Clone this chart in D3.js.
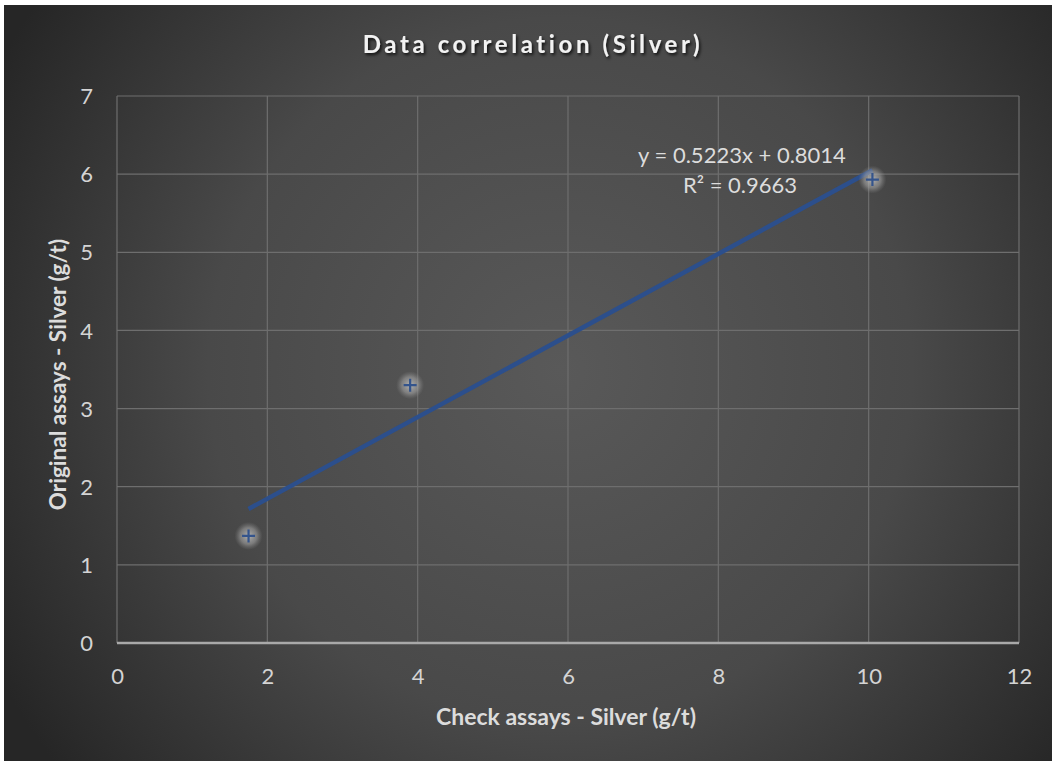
<!DOCTYPE html>
<html>
<head>
<meta charset="utf-8">
<script src="https://cdn.jsdelivr.net/npm/d3@7"></script>
<style>
  html, body { margin: 0; padding: 0; background: #ffffff; }
  svg { display: block; }
  text { font-family: Lato, "Open Sans", sans-serif; }
</style>
</head>
<body>
<svg id="chart" width="1054" height="761"></svg>
<script>
// ---- data ----
const checkAssays = [1.75, 3.9, 10.05];      // x values (g/t)
const originalAssays = [1.37, 3.3, 5.93];    // y values (g/t)
const trendSlope = 0.5223;
const trendIntercept = 0.8014;
const rSquared = 0.9663;
const xTicks = [0, 2, 4, 6, 8, 10, 12];
const yTicks = [0, 1, 2, 3, 4, 5, 6, 7];
const titleText = "Data correlation (Silver)";
const xTitle = "Check assays - Silver (g/t)";
const yTitle = "Original assays - Silver (g/t)";

const svg = d3.select("#chart");
const frame = { x: 4, y: 5, w: 1048, h: 756 };
const plot = { left: 117, right: 1019, top: 96, bottom: 643 };

const defs = svg.append("defs");
const grad = defs.append("radialGradient")
  .attr("id", "bg").attr("gradientUnits", "userSpaceOnUse")
  .attr("cx", 560).attr("cy", 370).attr("r", 640);
grad.append("stop").attr("offset", "0%").attr("stop-color", "#595959");
grad.append("stop").attr("offset", "55%").attr("stop-color", "#494949");
grad.append("stop").attr("offset", "100%").attr("stop-color", "#262626");

const glow = defs.append("radialGradient").attr("id", "glow");
glow.append("stop").attr("offset", "0%").attr("stop-color", "#c4c4c4").attr("stop-opacity", 0.85);
glow.append("stop").attr("offset", "60%").attr("stop-color", "#a5a5a5").attr("stop-opacity", 0.55);
glow.append("stop").attr("offset", "100%").attr("stop-color", "#888888").attr("stop-opacity", 0);

const shadow = defs.append("filter").attr("id", "tshadow")
  .attr("x", "-10%").attr("y", "-30%").attr("width", "120%").attr("height", "160%");
shadow.append("feDropShadow").attr("dx", 1.5).attr("dy", 2).attr("stdDeviation", 1.5)
  .attr("flood-color", "#000").attr("flood-opacity", 0.8);

svg.append("rect").attr("x", frame.x).attr("y", frame.y)
  .attr("width", frame.w).attr("height", frame.h).attr("fill", "url(#bg)");

const x = d3.scaleLinear().domain([0, 12]).range([plot.left, plot.right]);
const y = d3.scaleLinear().domain([0, 7]).range([plot.bottom, plot.top]);

// gridlines
const g = svg.append("g");
g.selectAll("line.vg").data(xTicks).join("line")
  .attr("x1", d => x(d)).attr("x2", d => x(d))
  .attr("y1", y(7)).attr("y2", y(0))
  .attr("stroke", "#6e6e6e").attr("stroke-width", 1.2);
g.selectAll("line.hg").data(yTicks.filter(d => d > 0)).join("line")
  .attr("x1", x(0)).attr("x2", x(12))
  .attr("y1", d => y(d)).attr("y2", d => y(d))
  .attr("stroke", "#6e6e6e").attr("stroke-width", 1.2);

// x axis line
g.append("line").attr("x1", x(0)).attr("x2", x(12)).attr("y1", y(0)).attr("y2", y(0))
  .attr("stroke", "#a9a9a9").attr("stroke-width", 2.5);

// axes via d3
const xAxis = svg.append("g").attr("transform", `translate(0,${plot.bottom})`)
  .call(d3.axisBottom(x).tickValues(xTicks).tickSize(0).tickPadding(24).tickFormat(d3.format("d")));
const yAxis = svg.append("g").attr("transform", `translate(${plot.left},0)`)
  .call(d3.axisLeft(y).tickValues(yTicks).tickSize(0).tickPadding(24).tickFormat(d3.format("d")));
[xAxis, yAxis].forEach(a => {
  a.select(".domain").remove();
  a.selectAll("text").attr("fill", "#d4d4d4").attr("font-size", 22)
    .attr("font-family", "Lato, sans-serif");
});
yAxis.selectAll("text").attr("dy", "0.35em");
xAxis.selectAll("text").attr("dy", "0.78em");

// trendline
const tx = d3.extent(checkAssays);
svg.append("line")
  .attr("x1", x(tx[0])).attr("y1", y(trendSlope * tx[0] + trendIntercept))
  .attr("x2", x(tx[1])).attr("y2", y(trendSlope * tx[1] + trendIntercept))
  .attr("stroke", "#2c4f8c").attr("stroke-width", 4.5);

// points
const pts = checkAssays.map((d, i) => ({ x: d, y: originalAssays[i] }));
svg.selectAll("circle.glow").data(pts).join("circle")
  .attr("cx", d => x(d.x)).attr("cy", d => y(d.y)).attr("r", 14)
  .attr("fill", "url(#glow)");
svg.selectAll("path.mk").data(pts).join("path")
  .attr("d", d => {
    const cx = x(d.x), cy = y(d.y), s = 6.5;
    return `M${cx - s},${cy}H${cx + s}M${cx},${cy - s}V${cy + s}`;
  })
  .attr("stroke", "#34548c").attr("stroke-width", 2.2).attr("fill", "none");

// equation label
svg.append("text").attr("x", 742).attr("y", 163)
  .attr("text-anchor", "middle").attr("fill", "#dcdcdc").attr("font-size", 22)
  .text(`y = ${trendSlope}x + ${trendIntercept}`);
svg.append("text").attr("x", 740).attr("y", 193)
  .attr("text-anchor", "middle").attr("fill", "#dcdcdc").attr("font-size", 22)
  .text(`R² = ${rSquared}`);

// title
svg.append("text").attr("x", 533).attr("y", 53)
  .attr("text-anchor", "middle").attr("fill", "#f2f2f2")
  .attr("font-size", 24).attr("font-weight", "bold").attr("letter-spacing", 3.6)
  .attr("filter", "url(#tshadow)")
  .text(titleText);

// axis titles
svg.append("text").attr("x", (plot.left + plot.right) / 2 - 2).attr("y", 725)
  .attr("text-anchor", "middle").attr("fill", "#dcdcdc")
  .attr("font-size", 23).attr("font-weight", "bold")
  .text(xTitle);
svg.append("text").attr("transform", `translate(66,${(plot.top + plot.bottom) / 2 + 5}) rotate(-90)`)
  .attr("text-anchor", "middle").attr("fill", "#dcdcdc")
  .attr("font-size", 22.5).attr("font-weight", "bold")
  .text(yTitle);
</script>
</body>
</html>
